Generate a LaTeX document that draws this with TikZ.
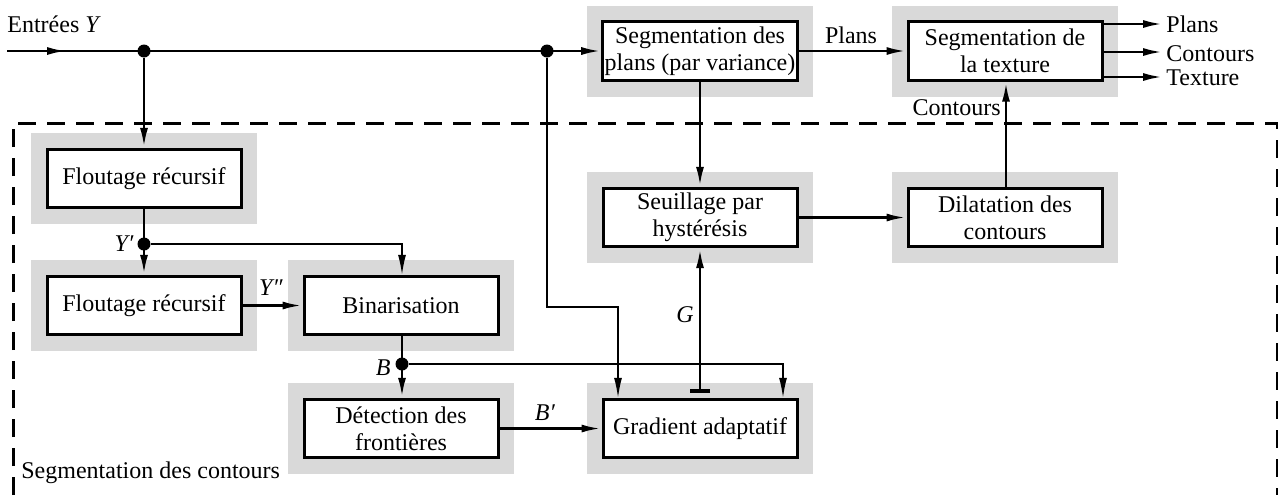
\documentclass[tikz,border=0pt]{standalone}
\usepackage{fontspec}
\setmainfont{Liberation Serif}
\usetikzlibrary{arrows.meta,calc}
\definecolor{bggray}{HTML}{D9D9D9}
\newcommand\blockat[3]{\node[grayback] at #2 {};\node[blockbox] (#1) at #2 {#3};}
\begin{document}
\begin{tikzpicture}[x=0.5pt,y=-0.5pt,
  font=\fontsize{12}{13.5}\selectfont,
  grayback/.style={fill=bggray, draw=none, minimum width=113pt, minimum height=45.5pt, inner sep=0pt},
  blockbox/.style={draw, fill=white, line width=1.5pt, minimum width=97pt, minimum height=29.2pt, inner sep=1pt, align=center},
  tipA/.tip={Latex[length=10pt,width=4pt]},
  arr/.style={line width=1.4pt, -tipA},
  thinarr/.style={line width=0.75pt, -tipA},
  junction/.style={circle, fill, inner sep=0pt, minimum size=6.5pt},
  lbl/.style={inner sep=0pt},
  frame/.style={line width=1.5pt, dash pattern=on 9pt off 5.5pt},
]
\useasboundingbox (0,0) rectangle (1278,495);
% frame
\draw[frame] (13,495) -- (13,123) -- (1277,123) -- (1277,495);
\node[lbl, anchor=base west] (lframe) at (21,478) {Segmentation des contours};
% blocks
\blockat{fl1}{(144,178.5)}{Floutage récursif}
\blockat{fl2}{(144,305.5)}{Floutage récursif}
\blockat{bin}{(401,305.5)}{Binarisation}
\blockat{det}{(401,428.5)}{Détection des\\frontières}
\blockat{grad}{(700,428.5)}{Gradient adaptatif}
\blockat{seuil}{(700,217.5)}{Seuillage par\\hystérésis}
\blockat{dil}{(1005,217.5)}{Dilatation des\\contours}
\blockat{segp}{(700,51)}{Segmentation des\\plans (par variance)}
\blockat{segt}{(1005,51)}{Segmentation de\\la texture}
% coordinates
\coordinate (in) at (7,51);
\coordinate (inA) at (67,51);
\node[junction] (d1) at (144,51) {};
\node[junction] (d2) at (547,51) {};
\node[junction] (dY) at (144,244) {};
\node[junction] (dB) at (402,364) {};
\coordinate (k1) at (547,307);
\coordinate (gb) at (700,393);
\coordinate (o1) at (1163,24);
\coordinate (o2) at (1163,52);
\coordinate (o3) at (1163,77);
% input
\node[lbl, anchor=base west] (lin) at (7,32) {Entrées \textit{Y}};
\draw[arr] (in) -- (segp.west);
\draw[arr] (in) -- (inA);
\draw[arr] (d1) -- (fl1.north);
\draw[arr] (fl1.south) -- (fl2.north);
\draw[thinarr] (dY) -| ([xshift=0.5pt]bin.north);
\node[lbl, anchor=base east] (lY) at (134,251) {\textit{Y′}};
\draw[arr] (fl2.east) -- (bin.west);
\node[lbl, anchor=base] (lYY) at (271,295) {\textit{Y″}};
\draw[arr] ([xshift=0.5pt]bin.south) -- ([xshift=0.5pt]det.north);
\node[lbl, anchor=base east] (lB) at (391,375) {\textit{B}};
\draw[thinarr] (dB) -| ([xshift=41.5pt]grad.north);
\draw[thinarr] (d2) -- (k1) -| ([xshift=-41pt]grad.north);
\draw[arr] (det.east) -- (grad.west);
\node[lbl, anchor=base] (lBB) at (545,420) {\textit{B′}};
\draw[line width=1.4pt, {Bar[width=10pt,line width=2pt]}-tipA] (gb) -- (seuil.south);
\node[lbl, anchor=base east] (lG) at (694,322) {\textit{G}};
\draw[arr] (segp.south) -- (seuil.north);
\draw[arr] (seuil.east) -- (dil.west);
\draw[arr] ([xshift=0.5pt]dil.north) -- ([xshift=0.5pt]segt.south);
\node[lbl, anchor=base east] (lC) at (1001,115) {Contours};
\draw[arr] (segp.east) -- (segt.west);
\node[lbl, anchor=base] (lP) at (851,43) {Plans};
\draw[arr] (segt.east |- o1) -- (o1);
\draw[arr] (segt.east |- o2) -- (o2);
\draw[arr] (segt.east |- o3) -- (o3);
\node[lbl, anchor=base west] (lo1) at (1166,32) {Plans};
\node[lbl, anchor=base west] (lo2) at (1166,61) {Contours};
\node[lbl, anchor=base west] (lo3) at (1166,85) {Texture};
\end{tikzpicture}
\end{document}
